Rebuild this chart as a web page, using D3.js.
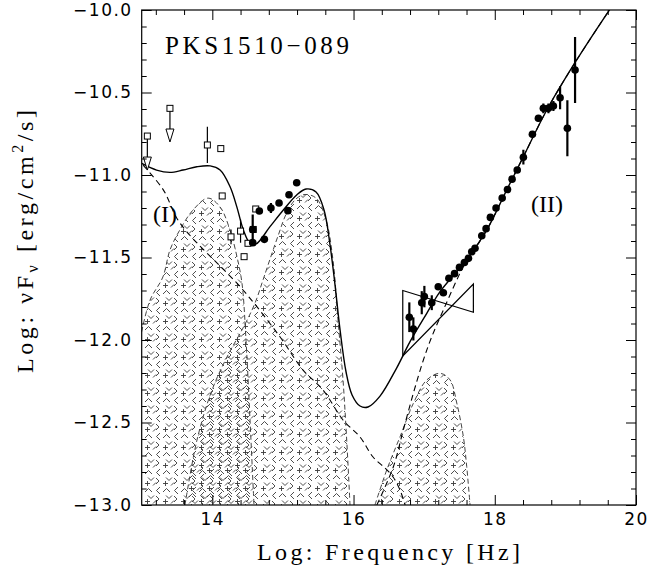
<!DOCTYPE html>
<html>
<head>
<meta charset="utf-8">
<script src="https://cdnjs.cloudflare.com/ajax/libs/d3/7.8.5/d3.min.js"></script>
<style>
  body { margin: 0; background: #fff; }
</style>
</head>
<body>
<div id="chart"></div>
<script>
// ---- data (log nu, log nuFnu) ----
var xMajor = [14, 16, 18, 20];
var xMinor = [13.2, 13.6, 14.4, 14.8, 15.2, 15.6, 16.4, 16.8, 17.2, 17.6, 18.4, 18.8, 19.2, 19.6];
var yMajor = [-13, -12.5, -12, -11.5, -11, -10.5, -10];

// total model (solid)
var totalModel = [[13.0,-10.93],[13.21,-10.97],[13.40,-10.984],[13.585,-10.97],[13.78,-10.95],[13.97,-10.945],
  [14.11,-10.97],[14.25,-11.07],[14.345,-11.19],[14.44,-11.333],[14.535,-11.414],[14.62,-11.418],[14.817,-11.313],
  [15.006,-11.212],[15.195,-11.121],[15.327,-11.085],[15.469,-11.103],[15.582,-11.212],[15.667,-11.424],
  [15.738,-11.667],[15.809,-11.939],[15.894,-12.194],[15.979,-12.333],[16.092,-12.4],[16.205,-12.406],
  [16.375,-12.34],[16.61,-12.17],[16.80,-12.01],[17.037,-11.838],[17.225,-11.707],[17.46,-11.586],[17.60,-11.515],
  [17.887,-11.333],[18.17,-11.09],[18.405,-10.889],[18.737,-10.606],[19.16,-10.303],[19.63,-9.996]];

// synchrotron component (I), dashed
var syncModel = [[13.02,-10.94],[13.306,-11.09],[13.54,-11.29],[14.435,-11.697],[14.96,-11.982],[15.285,-12.182],
  [15.568,-12.303],[15.851,-12.485],[16.092,-12.588],[16.276,-12.709],[16.446,-12.776],[16.56,-12.83],
  [16.658,-12.909],[16.73,-13.0]];

// inverse Compton component (II), dashed
var icModel = [[16.33,-13.0],[16.564,-12.768],[16.705,-12.545],[16.847,-12.323],[16.989,-12.121],[17.108,-11.98],
  [17.272,-11.818],[17.462,-11.636],[17.555,-11.556],[17.887,-11.333],[18.17,-11.09],[18.405,-10.889],
  [18.737,-10.606],[19.16,-10.303],[19.63,-9.996]];

// thermal humps (hatched)
var hump1 = [[13.0,-11.95],[13.118,-11.758],[13.30,-11.618],[13.40,-11.455],[13.54,-11.333],[13.727,-11.212],
  [13.94,-11.14],[14.11,-11.194],[14.25,-11.333],[14.35,-11.497],[14.42,-11.655],[14.477,-12.0],[14.534,-12.485],
  [14.59,-13.0]];
var hump2 = [[13.613,-13.0],[13.783,-12.606],[13.996,-12.303],[14.222,-12.091],[14.435,-11.927],[14.605,-11.776],
  [14.718,-11.636],[14.817,-11.51],[14.93,-11.37],[15.058,-11.225],[15.185,-11.145],[15.313,-11.118],
  [15.469,-11.14],[15.61,-11.27],[15.71,-11.52],[15.78,-11.879],[15.851,-12.242],[15.907,-12.636],[15.95,-13.0]];
var hump3 = [[16.303,-13.0],[16.47,-12.788],[16.659,-12.586],[16.847,-12.384],[17.037,-12.242],[17.225,-12.202],
  [17.367,-12.242],[17.462,-12.382],[17.555,-12.586],[17.603,-12.768],[17.65,-13.0]];

// X-ray bowtie: [nu, flux] of the two power-law edges
var bowtieSteep = [[16.697,-11.70],[17.697,-11.832]];
var bowtieFlat  = [[16.697,-12.097],[17.697,-11.661]];

// upper limits: [nu, flux, arrow tip]
var upperLimits = [[13.08,-10.764,-10.97],[13.40,-10.596,-10.80]];

// open squares: [nu, flux, error]
var openSquares = [[13.93,-10.818,0.11],[14.12,-10.84,0],[14.14,-11.127,0],[14.265,-11.375,0.045],
  [14.40,-11.34,0.07],[14.505,-11.414,0],[14.45,-11.495,0],[14.615,-11.206,0],[14.58,-11.33,0]];

// filled circles: [nu, flux, error]
var filledCircles = [[14.572,-11.41,0],[14.572,-11.33,0.09],[14.666,-11.218,0],[14.737,-11.39,0],
  [14.83,-11.20,0.03],[14.945,-11.17,0],[15.07,-11.216,0],[15.086,-11.12,0],[15.195,-11.047,0],
  [16.79,-11.862,0.09],[16.847,-11.933,0.07],[16.966,-11.774,0.07],[17.003,-11.737,0.065],[17.108,-11.774,0.045],
  [17.20,-11.677,0],[17.272,-11.714,0],[17.35,-11.626,0],[17.43,-11.598,0],[17.50,-11.56,0],[17.57,-11.53,0],
  [17.627,-11.505,0],[17.674,-11.465,0],[17.72,-11.444,0],[17.816,-11.368,0],[17.877,-11.325,0],
  [17.938,-11.257,0],[18.018,-11.2,0],[18.105,-11.14,0],[18.18,-11.088,0],[18.245,-11.025,0],[18.318,-10.97,0],
  [18.405,-10.892,0.045],[18.533,-10.753,0.02],[18.618,-10.656,0.02],[18.688,-10.596,0.03],[18.76,-10.596,0.03],
  [18.83,-10.582,0.03],[18.925,-10.532,0.07],[19.028,-10.717,0.17],[19.137,-10.364,0.2]];

var width = 650,
    height = 575;

var svg = d3.select('#chart')
      .append('svg')
      .attr('width', width)
      .attr('height', height);

var x = d3.scaleLinear().domain([13, 20]).range([141.7, 636]);
var y = d3.scaleLinear().domain([-13, -10]).range([505, 10]);

var defs = svg.append('defs');
defs.append('clipPath').attr('id', 'plot')
    .append('rect')
    .attr('x', x(13)).attr('y', y(-10))
    .attr('width', x(20) - x(13)).attr('height', y(-13) - y(-10));

// hatch patterns: little ^ < v > + marks like the original fill
function hatch(id, dx, dy) {
  var p = defs.append('pattern')
      .attr('id', id)
      .attr('patternUnits', 'userSpaceOnUse')
      .attr('width', 18).attr('height', 18)
      .attr('x', dx).attr('y', dy);
  p.append('path')
      .attr('d', 'M1,6 l3.5,-3.5 l3.5,3.5 M16,1 l-3.5,3.5 l3.5,3.5 M4,9.5 l3,3 l3,-3 M12,10 l3,3 l-3,3 ' +
                 'M1,15.5 h5 M3.5,13 v5 M9,17.5 l3,-3')
      .attr('fill', 'none')
      .attr('stroke', '#3a3a3a')
      .attr('stroke-width', 0.9);
}
hatch('hatchA', 0, 0);
hatch('hatchB', 8, 5);

var g = svg.append('g').attr('clip-path', 'url(#plot)');

var line = d3.line()
    .x(d => x(d[0]))
    .y(d => y(d[1]))
    .curve(d3.curveCatmullRom.alpha(0.5));

var area = d3.area()
    .x(d => x(d[0]))
    .y0(y(-13.2))
    .y1(d => y(d[1]))
    .curve(d3.curveCatmullRom.alpha(0.5));

[[hump1, 'hatchA'], [hump2, 'hatchB'], [hump3, 'hatchA']].forEach(function(h) {
  g.append('path').datum(h[0])
    .attr('d', area)
    .attr('fill', 'url(#' + h[1] + ')');
  g.append('path').datum(h[0])
    .attr('d', line)
    .attr('fill', 'none')
    .attr('stroke', '#444')
    .attr('stroke-width', 1)
    .attr('stroke-dasharray', '5,3');
});

// dashed model components
[syncModel, icModel].forEach(function(c) {
  g.append('path').datum(c)
    .attr('d', line)
    .attr('fill', 'none')
    .attr('stroke', '#000')
    .attr('stroke-width', 1.1)
    .attr('stroke-dasharray', '6,4');
});

// total model
g.append('path').datum(totalModel)
    .attr('d', line)
    .attr('fill', 'none')
    .attr('stroke', '#000')
    .attr('stroke-width', 1.4);

// bowtie
var lo = bowtieSteep, hi = bowtieFlat;
g.append('path')
    .attr('d', 'M' + x(lo[0][0]) + ',' + y(lo[0][1]) +
               'L' + x(lo[1][0]) + ',' + y(lo[1][1]) +
               'L' + x(hi[1][0]) + ',' + y(hi[1][1]) +
               'L' + x(hi[0][0]) + ',' + y(hi[0][1]) + 'Z')
    .attr('fill', 'none')
    .attr('stroke', '#000')
    .attr('stroke-width', 1.2);

// upper limits
var ul = g.selectAll('.ul').data(upperLimits).enter().append('g');
ul.append('line')
    .attr('x1', d => x(d[0])).attr('x2', d => x(d[0]))
    .attr('y1', d => y(d[1])).attr('y2', d => y(d[2]) - 12)
    .attr('stroke', '#000').attr('stroke-width', 1.2);
ul.append('path')
    .attr('d', d => 'M' + (x(d[0]) - 4) + ',' + (y(d[2]) - 13) + 'h8L' + x(d[0]) + ',' + y(d[2]) + 'Z')
    .attr('fill', '#fff').attr('stroke', '#000').attr('stroke-width', 1);
ul.append('rect')
    .attr('x', d => x(d[0]) - 3).attr('y', d => y(d[1]) - 3)
    .attr('width', 6).attr('height', 6)
    .attr('fill', '#fff').attr('stroke', '#000').attr('stroke-width', 1);

// open squares with error bars
g.selectAll('.sqerr').data(openSquares.filter(d => d[2] > 0)).enter().append('line')
    .attr('x1', d => x(d[0])).attr('x2', d => x(d[0]))
    .attr('y1', d => y(d[1] - d[2])).attr('y2', d => y(d[1] + d[2]))
    .attr('stroke', '#000').attr('stroke-width', 1.2);
g.selectAll('.sq').data(openSquares).enter().append('rect')
    .attr('x', d => x(d[0]) - 3).attr('y', d => y(d[1]) - 3)
    .attr('width', 6).attr('height', 6)
    .attr('fill', '#fff').attr('stroke', '#000').attr('stroke-width', 1);

// filled circles with error bars
g.selectAll('.cerr').data(filledCircles.filter(d => d[2] > 0)).enter().append('line')
    .attr('x1', d => x(d[0])).attr('x2', d => x(d[0]))
    .attr('y1', d => y(d[1] - d[2])).attr('y2', d => y(d[1] + d[2]))
    .attr('stroke', '#000').attr('stroke-width', 2.2);
g.selectAll('.c').data(filledCircles).enter().append('circle')
    .attr('cx', d => x(d[0])).attr('cy', d => y(d[1]))
    .attr('r', 3.8)
    .attr('fill', '#000');

// ---- axes (ticks inside, on all four sides) ----
var tickFont = '"DejaVu Sans", sans-serif';

function styleAxis(sel) {
  sel.select('.domain').remove();
  sel.selectAll('line').attr('stroke', '#000');
  sel.selectAll('text').attr('font-family', tickFont).attr('font-size', 17)
     .attr('letter-spacing', 1.5).attr('fill', '#000');
}

svg.append('g').attr('transform', 'translate(0,' + y(-13) + ')')
  .call(d3.axisBottom(x).tickValues(xMajor).tickSize(-10).tickPadding(8).tickFormat(d3.format('d')))
  .call(styleAxis);
svg.append('g').attr('transform', 'translate(0,' + y(-13) + ')')
  .call(d3.axisBottom(x).tickValues(xMinor).tickSize(-5).tickFormat(''))
  .call(styleAxis);
svg.append('g').attr('transform', 'translate(0,' + y(-10) + ')')
  .call(d3.axisTop(x).tickValues(xMajor).tickSize(-10).tickFormat(''))
  .call(styleAxis);
svg.append('g').attr('transform', 'translate(0,' + y(-10) + ')')
  .call(d3.axisTop(x).tickValues(xMinor).tickSize(-5).tickFormat(''))
  .call(styleAxis);

var yMinor = d3.range(-12.9, -10, 0.1).filter(v => Math.abs(v * 2 - Math.round(v * 2)) > 0.01);
svg.append('g').attr('transform', 'translate(' + x(13) + ',0)')
  .call(d3.axisLeft(y).tickValues(yMajor).tickSize(-10).tickPadding(9).tickFormat(d3.format('.1f')))
  .call(styleAxis);
svg.append('g').attr('transform', 'translate(' + x(13) + ',0)')
  .call(d3.axisLeft(y).tickValues(yMinor).tickSize(-5).tickFormat(''))
  .call(styleAxis);
svg.append('g').attr('transform', 'translate(' + x(20) + ',0)')
  .call(d3.axisRight(y).tickValues(yMajor).tickSize(-10).tickFormat(''))
  .call(styleAxis);
svg.append('g').attr('transform', 'translate(' + x(20) + ',0)')
  .call(d3.axisRight(y).tickValues(yMinor).tickSize(-5).tickFormat(''))
  .call(styleAxis);

// frame
svg.append('rect')
    .attr('x', x(13)).attr('y', y(-10))
    .attr('width', x(20) - x(13)).attr('height', y(-13) - y(-10))
    .attr('fill', 'none').attr('stroke', '#000').attr('stroke-width', 1.2);

// ---- texts ----
var serif = '"Liberation Serif", "DejaVu Serif", serif';

svg.append('text')
    .attr('x', 165).attr('y', 54)
    .attr('font-family', serif).attr('font-size', 25)
    .attr('textLength', 184).attr('lengthAdjust', 'spacing')
    .text('PKS1510\u2212089');

svg.append('text')
    .attr('x', 165).attr('y', 222).attr('text-anchor', 'middle')
    .attr('font-family', serif).attr('font-size', 24)
    .text('(I)');

svg.append('text')
    .attr('x', 547).attr('y', 212).attr('text-anchor', 'middle')
    .attr('font-family', serif).attr('font-size', 24)
    .text('(II)');

svg.append('text')
    .attr('x', 257).attr('y', 560)
    .attr('font-family', serif).attr('font-size', 24)
    .attr('textLength', 263).attr('lengthAdjust', 'spacing')
    .text('Log: Frequency [Hz]');

var yt = svg.append('text')
    .attr('transform', 'translate(33,373) rotate(-90)')
    .attr('font-family', serif).attr('font-size', 24)
    .attr('textLength', 263).attr('lengthAdjust', 'spacing');
yt.append('tspan').text('Log: \u03bdF');
yt.append('tspan').attr('font-size', 16).attr('dy', 5).text('\u03bd');
yt.append('tspan').attr('dy', -5).text(' [erg/cm');
yt.append('tspan').attr('font-size', 16).attr('dy', -10).text('2');
yt.append('tspan').attr('dy', 10).text('/s]');
</script>
</body>
</html>
